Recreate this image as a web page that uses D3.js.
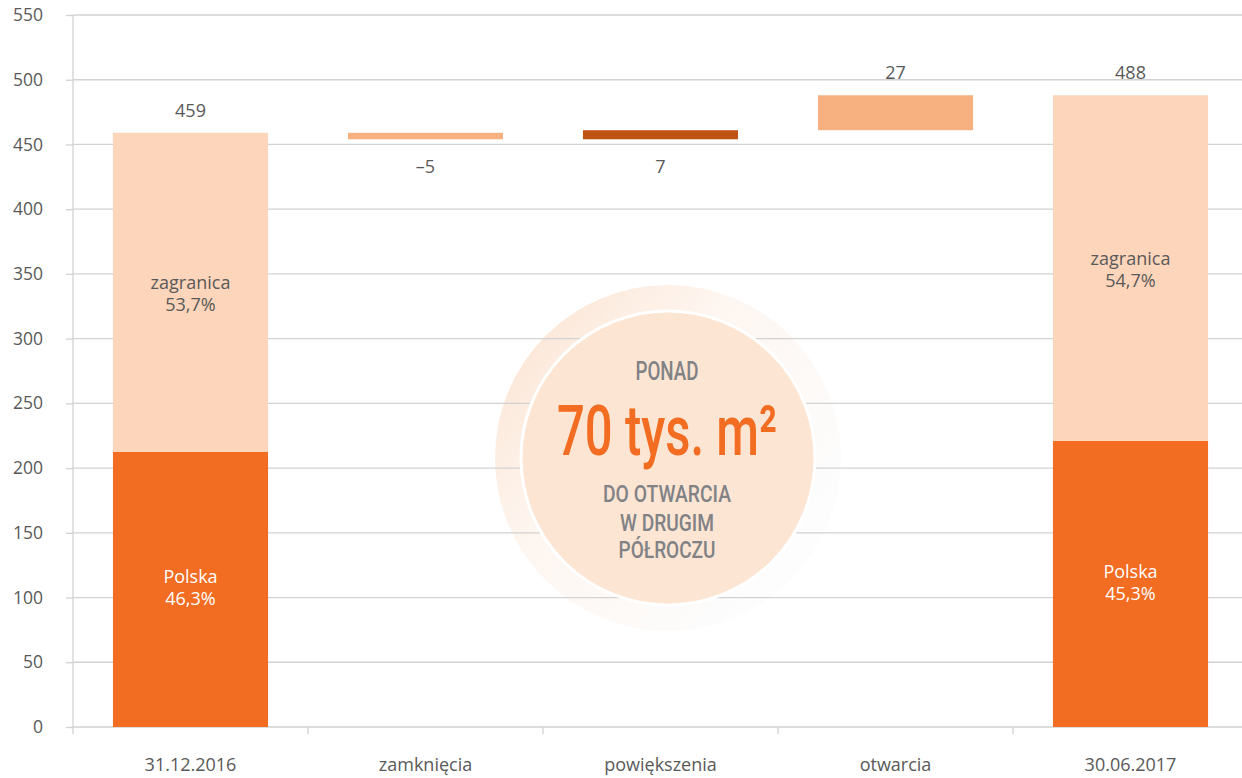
<!DOCTYPE html>
<html><head><meta charset="utf-8">
<script src="https://cdn.jsdelivr.net/npm/d3@7"></script>
<style>
html,body{margin:0;padding:0;background:#fff;}
svg text{font-family:"Open Sans",sans-serif;}
</style></head>
<body>
<svg id="chart" width="1242" height="778"></svg>
<script>
// ---- data ----
const categories = ["31.12.2016","zamknięcia","powiększenia","otwarcia","30.06.2017"];
const totals = [459, 488];              // start / end totals
const polskaShare = [46.3, 45.3];       // % share Polska
const zagranicaShare = [53.7, 54.7];    // % share zagranica
const changes = [-5, 7, 27];            // zamknięcia, powiększenia, otwarcia
const changeLabels = ["–5","7","27"];
const yTicks = [0,50,100,150,200,250,300,350,400,450,500,550];
const calloutLines = ["PONAD","70 tys. m²","DO OTWARCIA","W DRUGIM","PÓŁROCZU"];

// ---- layout ----
const svg = d3.select("#chart");
const pLeft = 73, pRight = 1248, pTop = 15, pBottom = 727;
const FS = "18px";
const y = d3.scaleLinear().domain([0,550]).range([pBottom, pTop]);
const x = d3.scaleBand().domain(categories).range([pLeft, pRight]).paddingInner(0.34).paddingOuter(0.17);
const step = x.step();

const C = {polska:"#F26C22", zagr:"#FDD5BA", light:"#F7B07F", dark:"#BF5314",
           grid:"#D2D2D2", text:"#595959", circle:"#FDE5D3", grayTxt:"#808285"};

// halo gradient
const defs = svg.append("defs");
const g1 = defs.append("linearGradient").attr("id","halo").attr("x1","0.05").attr("y1","0.2").attr("x2","0.8").attr("y2","0.8");
g1.append("stop").attr("offset","0%").attr("stop-color","#FBE2CF").attr("stop-opacity",0.85);
g1.append("stop").attr("offset","40%").attr("stop-color","#FDF0E7").attr("stop-opacity",0.6);
g1.append("stop").attr("offset","100%").attr("stop-color","#FBFBFB").attr("stop-opacity",0.6);

const cx = 668, cy = 458;
svg.append("circle").attr("cx",cx).attr("cy",cy).attr("r",173).attr("fill","url(#halo)");

// grid + y axis
const yAxis = d3.axisLeft(y).tickValues(yTicks).tickSize(7).tickPadding(23);
const yg = svg.append("g").attr("transform",`translate(${pLeft},0)`).call(yAxis);
yg.select(".domain").attr("stroke",C.grid).attr("stroke-width",1.3).attr("d",`M0,${pTop}V${pBottom}`);
yg.selectAll(".tick line").attr("stroke",C.grid).attr("stroke-width",1.3);
yg.selectAll(".tick text").attr("fill",C.text).style("font-size","17.5px").style("font-family","'Open Sans',sans-serif");
svg.append("g").selectAll("line").data(yTicks).join("line")
  .attr("x1",pLeft).attr("x2",1242).attr("y1",d=>y(d)).attr("y2",d=>y(d))
  .attr("stroke",C.grid).attr("stroke-width",1.3);

// x axis ticks at band boundaries
const bounds = categories.map((c,i)=>pLeft + i*step);
svg.append("g").selectAll("line").data(bounds).join("line")
  .attr("x1",d=>d).attr("x2",d=>d).attr("y1",pBottom).attr("y2",pBottom+7)
  .attr("stroke",C.grid).attr("stroke-width",1.3);
svg.append("g").selectAll("text").data(categories).join("text")
  .attr("x",d=>x(d)+x.bandwidth()/2).attr("y",771).attr("text-anchor","middle")
  .attr("fill",C.text).style("font-size",FS).text(d=>d);

// total bars (stacked)
const totalIdx = [0,4];
totals.forEach((t,i)=>{
  const cat = categories[totalIdx[i]];
  const pol = t*polskaShare[i]/100;
  const bx = x(cat), bw = x.bandwidth(), mid = bx+bw/2;
  svg.append("rect").attr("x",bx).attr("width",bw).attr("y",y(pol)).attr("height",y(0)-y(pol)).attr("fill",C.polska);
  svg.append("rect").attr("x",bx).attr("width",bw).attr("y",y(t)).attr("height",y(pol)-y(t)).attr("fill",C.zagr);
  const mz = (y(pol)+y(t))/2, mp = (y(0)+y(pol))/2;
  const fmt = v=>v.toFixed(1).replace(".",",")+"%";
  svg.append("text").attr("x",mid).attr("y",mz-3).attr("text-anchor","middle").attr("fill",C.text).style("font-size",FS).text("zagranica");
  svg.append("text").attr("x",mid).attr("y",mz+19).attr("text-anchor","middle").attr("fill",C.text).style("font-size",FS).text(fmt(zagranicaShare[i]));
  svg.append("text").attr("x",mid).attr("y",mp-6).attr("text-anchor","middle").attr("fill","#fff").style("font-size",FS).text("Polska");
  svg.append("text").attr("x",mid).attr("y",mp+16).attr("text-anchor","middle").attr("fill","#fff").style("font-size",FS).text(fmt(polskaShare[i]));
  svg.append("text").attr("x",mid).attr("y",y(t)-16).attr("text-anchor","middle").attr("fill",C.text).style("font-size",FS).text(t);
});

// waterfall change bars
let run = totals[0];
const chColors = [C.light, C.dark, C.light];
changes.forEach((d,i)=>{
  const cat = categories[i+1];
  const a = run, b = run + d; run = b;
  const lo = Math.min(a,b), hi = Math.max(a,b);
  const bx = x(cat), bw = x.bandwidth(), mid = bx+bw/2;
  svg.append("rect").attr("x",bx).attr("width",bw).attr("y",y(hi)).attr("height",y(lo)-y(hi)).attr("fill",chColors[i]);
  const above = i===2;
  svg.append("text").attr("x",mid).attr("y", above ? y(hi)-16 : y(Math.min(totals[0]+changes[0],lo))+34)
    .attr("text-anchor","middle").attr("fill",C.text).style("font-size",FS).text(changeLabels[i]);
});

// callout circle
svg.append("circle").attr("cx",cx).attr("cy",cy).attr("r",147).attr("fill",C.circle).attr("stroke","#fff").attr("stroke-width",3);
const cl = [
  {t:calloutLines[0], y:380, fs:25, len:63, c:C.grayTxt},
  {t:calloutLines[1], y:455, fs:70, len:220, c:"#F26C22"},
  {t:calloutLines[2], y:502, fs:23.5, len:128, c:C.grayTxt},
  {t:calloutLines[3], y:531, fs:23.5, len:94, c:C.grayTxt},
  {t:calloutLines[4], y:558, fs:23.5, len:97, c:C.grayTxt}
];
svg.append("g").selectAll("text").data(cl).join("text")
  .attr("x",cx-1).attr("y",d=>d.y).attr("text-anchor","middle")
  .attr("fill",d=>d.c).style("font-family","Roboto, sans-serif").style("font-weight",500)
  .style("font-size",d=>d.fs+"px").attr("textLength",d=>d.len).attr("lengthAdjust","spacingAndGlyphs")
  .text(d=>d.t);
</script>
</body></html>
